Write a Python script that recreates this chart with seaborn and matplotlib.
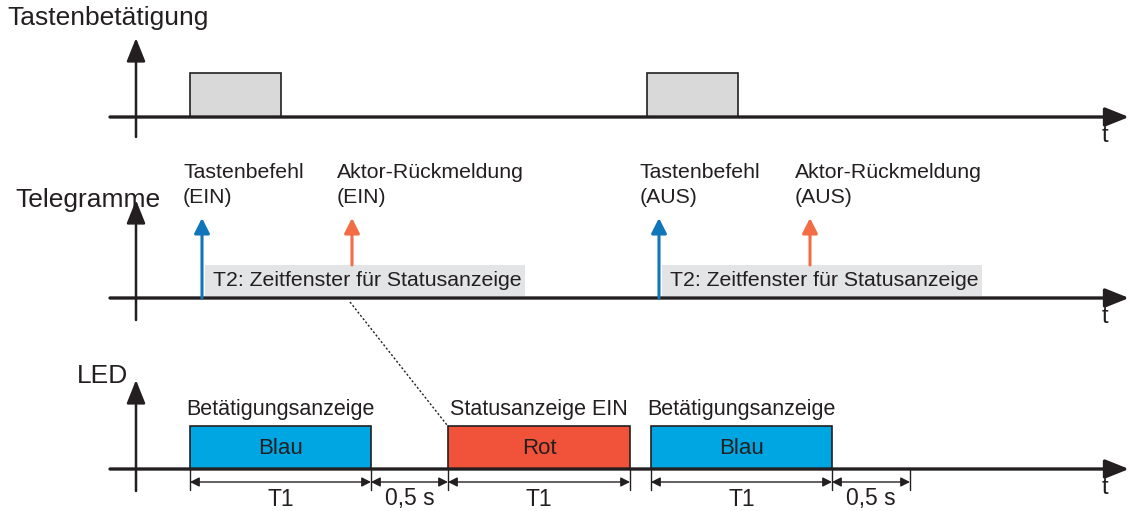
import matplotlib
matplotlib.use("Agg")
import matplotlib.pyplot as plt
import seaborn as sns

sns.set_theme(style="white")
plt.rcParams['font.family'] = ['Liberation Sans', 'DejaVu Sans']

# ---- data (pixel-like time/level coordinates) ----
section_titles = ["Tastenbetätigung", "Telegramme", "LED"]
baselines = [117, 298, 469]

press_start = [190, 647]
press_end = [281, 738]
press_top = 73

tel_blue_x = [202, 659]
tel_orange_x = [352, 810]
tel_blue_labels = ["Tastenbefehl\n(EIN)", "Tastenbefehl\n(AUS)"]
tel_orange_labels = ["Aktor-Rückmeldung\n(EIN)", "Aktor-Rückmeldung\n(AUS)"]
t2_start = [205, 662]
t2_end = [525, 982]
t2_label = "T2: Zeitfenster für Statusanzeige"

led_start = [190, 448, 651]
led_end = [371, 630, 832]
led_colors = ["#00A6E2", "#F0533A", "#00A6E2"]
led_names = ["Blau", "Rot", "Blau"]
led_titles = ["Betätigungsanzeige", "Statusanzeige EIN", "Betätigungsanzeige"]
led_top = 426

dim_start = [190, 371, 448, 651, 832]
dim_end = [371, 448, 630, 832, 910]
dim_labels = ["T1", "0,5 s", "T1", "T1", "0,5 s"]

W, H = 1133, 511
fig = plt.figure(figsize=(W / 100, H / 100), dpi=100)
ax = fig.add_axes([0, 0, 1, 1])
ax.set_xlim(0, W)
ax.set_ylim(H, 0)
ax.axis("off")

axc = "#231F20"

def axis_arrow(x0, y0, x1, y1, lw=2.2):
    ax.annotate("", xy=(x1, y1), xytext=(x0, y0),
                arrowprops=dict(arrowstyle="-|>,head_length=0.8,head_width=0.32",
                                color=axc, lw=lw, shrinkA=0, shrinkB=0,
                                mutation_scale=18))

# axes for each section
vtop = [38, 200, 380]
vbot = [137, 320, 491]
for yb, yt, ybot in zip(baselines, vtop, vbot):
    axis_arrow(110, yb, 1129, yb, lw=2.4)
    axis_arrow(136, ybot, 136, yt, lw=1.8)
    ax.text(1105, yb + 19, "t", fontsize=17, ha="center", va="center", color=axc)

ax.text(7, 18, section_titles[0], fontsize=19, ha="left", va="center", color=axc)
ax.text(15, 200, section_titles[1], fontsize=19, ha="left", va="center", color=axc)
ax.text(77, 376, section_titles[2], fontsize=19, ha="left", va="center", color=axc)

# Tastenbetätigung pulses
for s, e in zip(press_start, press_end):
    ax.add_patch(plt.Rectangle((s, press_top), e - s, baselines[0] - press_top,
                               facecolor="#D9D9DA", edgecolor=axc, lw=1.2, zorder=2))

# Telegramme
for i in range(2):
    ax.add_patch(plt.Rectangle((t2_start[i], 265), t2_end[i] - t2_start[i], 31,
                               facecolor="#E3E4E5", edgecolor="none", zorder=1))
    ax.text(t2_start[i] + 8, 281, t2_label, fontsize=15.3, ha="left", va="center",
            color=axc, zorder=3)
    ax.annotate("", xy=(tel_blue_x[i], 218), xytext=(tel_blue_x[i], baselines[1]),
                arrowprops=dict(arrowstyle="-|>,head_length=0.65,head_width=0.33",
                                color="#1176B9", lw=2.2, shrinkA=0, shrinkB=0,
                                mutation_scale=14), zorder=4)
    ax.annotate("", xy=(tel_orange_x[i], 218), xytext=(tel_orange_x[i], 265),
                arrowprops=dict(arrowstyle="-|>,head_length=0.65,head_width=0.33",
                                color="#F26C45", lw=2.2, shrinkA=0, shrinkB=0,
                                mutation_scale=14), zorder=4)
    ax.text(tel_blue_x[i] - 19, 185, tel_blue_labels[i], fontsize=15.3, ha="left",
            va="center", color=axc, linespacing=1.35)
    ax.text(tel_orange_x[i] - 15, 185, tel_orange_labels[i], fontsize=15.3, ha="left",
            va="center", color=axc, linespacing=1.35)

# dotted connector
ax.plot([350, 447], [302, 425], ls=(0, (1.5, 1.5)), color=axc, lw=1)

# LED bars
for s, e, c, n, t in zip(led_start, led_end, led_colors, led_names, led_titles):
    ax.add_patch(plt.Rectangle((s, led_top), e - s, baselines[2] - led_top,
                               facecolor=c, edgecolor=axc, lw=1.2, zorder=2))
    ax.text((s + e) / 2, (led_top + baselines[2]) / 2 + 1, n, fontsize=16,
            ha="center", va="center", color=axc, zorder=3)
    ax.text((s + e) / 2, 410, t, fontsize=15.5, ha="center", va="center", color=axc)

# dimension lines
ticks = sorted(set(dim_start + dim_end))
for x in ticks:
    ax.plot([x, x], [baselines[2], 490], color=axc, lw=1)
for s, e, l in zip(dim_start, dim_end, dim_labels):
    ax.annotate("", xy=(e, 482), xytext=(s, 482),
                arrowprops=dict(arrowstyle="<|-|>,head_length=0.55,head_width=0.28",
                                color=axc, lw=1, shrinkA=0, shrinkB=0,
                                mutation_scale=10))
    ax.text((s + e) / 2, 499, l, fontsize=16.5, ha="center", va="center", color=axc)

fig.savefig("out.png", dpi=100)
